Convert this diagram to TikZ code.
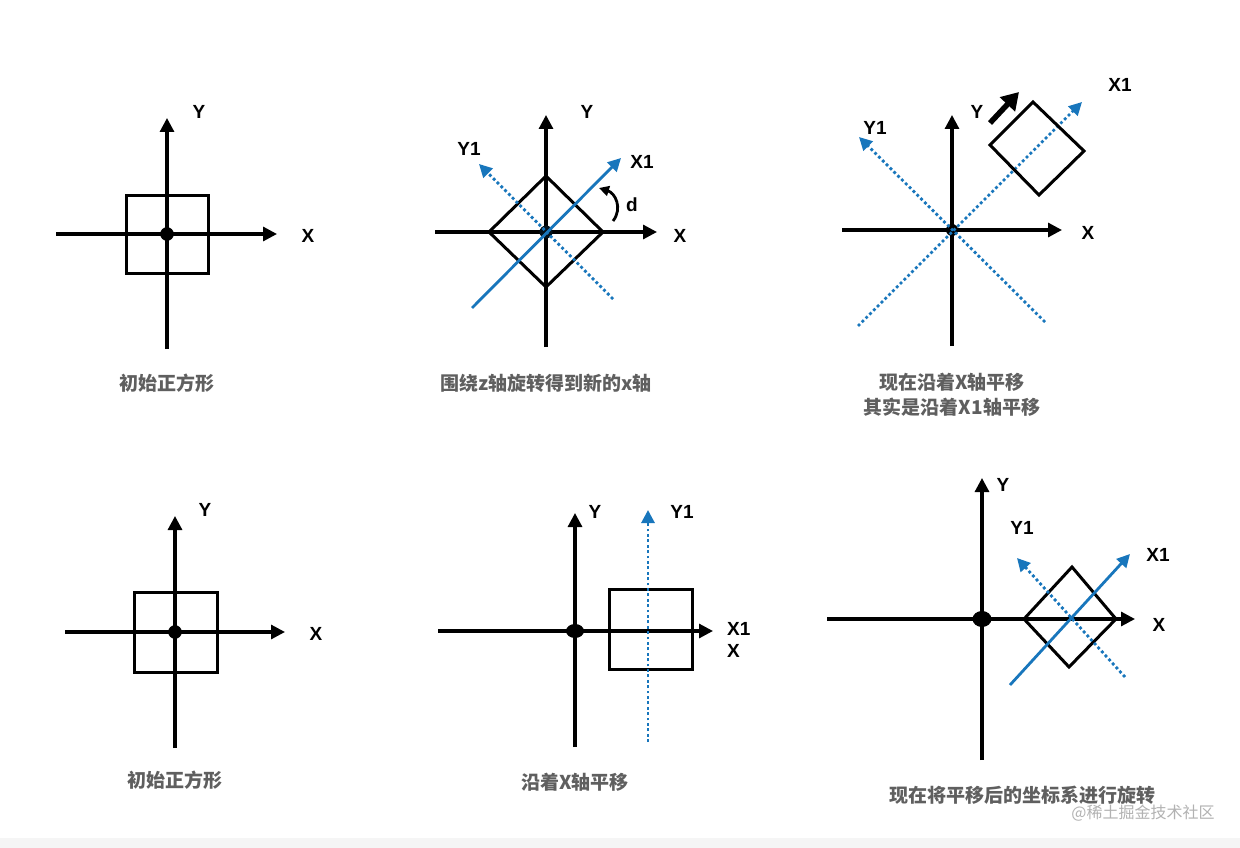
\documentclass[tikz,border=0pt]{standalone}
\usepackage{fontspec}
\setmainfont{Liberation Sans}
\newfontfamily\cjk{Noto Sans CJK SC}
\usetikzlibrary{arrows.meta}
\definecolor{axblue}{RGB}{24,118,188}
\definecolor{capgray}{RGB}{95,95,95}
\begin{document}
\begin{tikzpicture}[x=1pt,y=-1pt,
 ax/.style={line width=3.1pt,-{Triangle[length=14pt,width=14pt]}},
 sq/.style={line width=3pt, line join=miter},
 bl/.style={axblue,line width=2.8pt,-{Triangle[length=13pt,width=13pt]}},
 bldot/.style={bl, dash pattern=on 2.8pt off 2.6pt},
 lab/.style={font=\fontsize{19}{21}\selectfont\bfseries, inner sep=0pt},
 captext/.style={font=\cjk\fontsize{19}{25}\selectfont\bfseries, text=capgray, inner sep=0pt, align=center},
]
\useasboundingbox (0,0) rectangle (1240,848);
\fill[white] (0,0) rectangle (1240,848);
\fill[black!4] (0,838) rectangle (1240,848);

% Panel 1
\draw[ax] (56,234) -- (277,234);
\draw[ax] (167,349) -- (167,118);
\draw[sq] (126,195) rectangle (208,273);
\fill (167,234) circle (6.8);
\node[lab] (p1x) at (308,236) {X};
\node[lab] (p1y) at (199,112) {Y};
\node[captext] (p1c) at (167,383) {初始正方形};

% Panel 2
\draw[ax] (435,232) -- (657,232);
\draw[ax] (546,347) -- (546,115);
\draw[sq] (546,176) -- (603,232) -- (546,287) -- (489,232) -- cycle;
\fill[black!85!axblue] (546,232) circle (6.5);
\draw[bldot] (613,299) -- (479,164);
\draw[bl] (472,308) -- (621,158);
\draw[line width=2.8pt,-{Triangle[length=10pt,width=10pt]}] (613,221) .. controls (623,208) and (615,193) .. (599,188);
\node[lab] (p2y) at (587,112) {Y};
\node[lab] (p2y1) at (469,149) {Y1};
\node[lab] (p2x1) at (642,162) {X1};
\node[lab] (p2x) at (680,236) {X};
\node[lab] (p2d) at (632,205) {d};
\node[captext] (p2c) at (546,383) {围绕z轴旋转得到新的x轴};

% Panel 3
\draw[ax] (842,230) -- (1062,230);
\draw[ax] (952,346) -- (952,115);
\fill (952,230) circle (6);
\draw[bldot] (858,326) -- (1082,102);
\draw[bldot] (1045,322) -- (859,137);
\draw[sq] (1033,102) -- (1084,151) -- (1039,195) -- (990,145) -- cycle;
\draw[line width=5.5pt,-{Triangle[length=17pt,width=20pt]}] (990,123) -- (1019,92);
\node[lab] (p3x1) at (1120,85) {X1};
\node[lab] (p3y) at (977,112) {Y};
\node[lab] (p3y1) at (875,128) {Y1};
\node[lab] (p3x) at (1088,233) {X};
\node[captext] (p3c) at (952,394.5) {现在沿着X轴平移\\其实是沿着X1轴平移};

% Panel 4
\draw[ax] (65,632) -- (285,632);
\draw[ax] (175,748) -- (175,516);
\draw[sq] (134,592) rectangle (217,672);
\fill (175,632) circle (6.8);
\node[lab] (p4y) at (205,510) {Y};
\node[lab] (p4x) at (316,634) {X};
\node[captext] (p4c) at (175,780) {初始正方形};

% Panel 5
\draw[ax] (438,631) -- (713,631);
\draw[ax] (575,747) -- (575,513);
\fill (575,631) ellipse (9 and 7);
\draw[sq] (609,589) rectangle (692,669);
\draw[bldot] (648,742) -- (648,510);
\node[lab] (p5y) at (595,512) {Y};
\node[lab] (p5y1) at (682,512) {Y1};
\node[lab,anchor=west] (p5x1) at (727,629) {X1};
\node[lab,anchor=west] (p5x) at (727,651) {X};
\node[captext] (p5c) at (575,782) {沿着X轴平移};

% Panel 6
\draw[ax] (827,619) -- (1135,619);
\draw[ax] (982,760) -- (982,478);
\fill (982,619) ellipse (9.5 and 8);
\draw[sq] (1072,567) -- (1116,619) -- (1069,667) -- (1024,619) -- cycle;
\draw[bldot] (1125,677) -- (1017,558);
\draw[bl] (1010,685) -- (1130,554);
\node[lab] (p6y) at (1003,485) {Y};
\node[lab] (p6y1) at (1022,528) {Y1};
\node[lab] (p6x1) at (1158,555) {X1};
\node[lab] (p6x) at (1159,625) {X};
\node[captext] (p6c) at (1022,795) {现在将平移后的坐标系进行旋转};
\node[font=\cjk\fontsize{16}{18}\selectfont, text=black!30, inner sep=0pt] (wm) at (1143,813) {@稀土掘金技术社区};
\end{tikzpicture}
\end{document}
